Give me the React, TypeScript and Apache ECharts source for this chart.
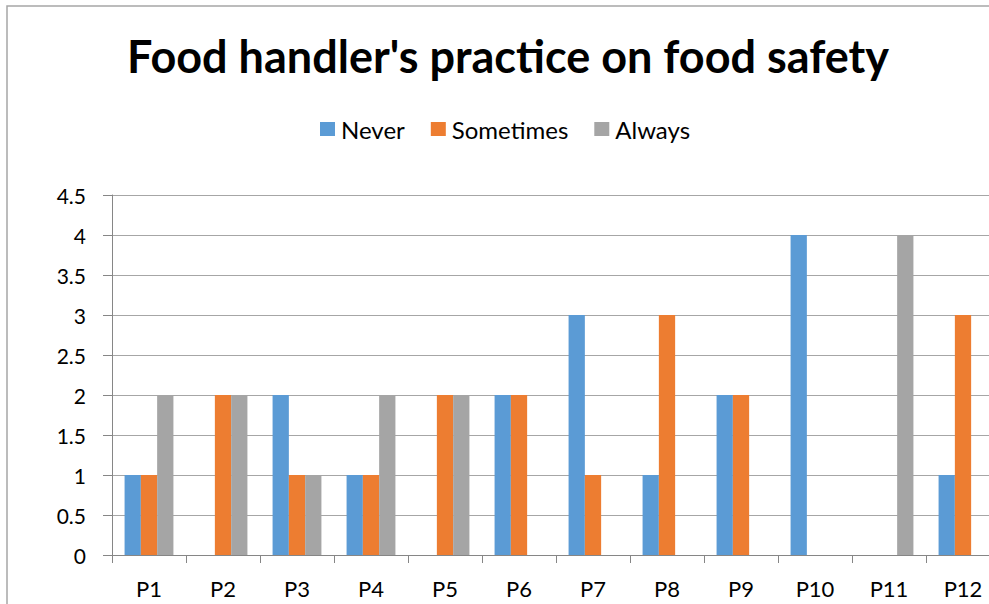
import React, { useEffect, useRef } from "react";
import * as echarts from "echarts";

const categories = ["P1", "P2", "P3", "P4", "P5", "P6", "P7", "P8", "P9", "P10", "P11", "P12"];
const never = [1, 0, 2, 1, 0, 2, 3, 1, 2, 4, 0, 1];
const sometimes = [1, 2, 1, 1, 2, 2, 1, 3, 2, 0, 0, 3];
const always = [2, 2, 1, 2, 2, 0, 0, 0, 0, 0, 4, 0];
const seriesNames = ["Never", "Sometimes", "Always"];
const colors = ["#5B9BD5", "#ED7D31", "#A5A5A5"];

const FONT = "Lato";

export default function App() {
  const ref = useRef<HTMLDivElement>(null);
  useEffect(() => {
    const chart = echarts.init(ref.current!, null, { renderer: "svg" });
    const data = [never, sometimes, always];
    chart.setOption({
      animation: false,
      backgroundColor: "#ffffff",
      title: {
        text: "Food handler's practice on food safety",
        left: 503,
        textAlign: "center",
        top: 28,
        textStyle: { fontFamily: FONT, fontWeight: "bold", fontSize: 45, color: "#000000" },
      },
      legend: {
        top: 117,
        left: 320,
        padding: 0,
        itemWidth: 15,
        itemHeight: 14,
        itemGap: 26,
        icon: "rect",
        textStyle: { fontFamily: FONT, fontSize: 24, color: "#000000", padding: [0, 0, 0, 1] },
        data: seriesNames,
      },
      graphic: [
        {
          type: "rect",
          shape: { x: 7, y: 6, width: 1100, height: 800 },
          style: { fill: "none", stroke: "#a6a6a6", lineWidth: 1.5 },
          silent: true,
        },
      ],
      grid: { left: 112, top: 195, width: 888, height: 360, outerBoundsMode: "none", containLabel: false },
      xAxis: {
        type: "category",
        data: categories,
        axisLine: { show: true, lineStyle: { color: "#868686", width: 1 } },
        axisTick: { show: true, interval: 0, length: 8, lineStyle: { color: "#868686" } },
        axisLabel: { margin: 22, fontFamily: FONT, fontSize: 22, color: "#000000" },
        splitLine: { show: false },
      },
      yAxis: {
        type: "value",
        min: 0,
        max: 4.5,
        interval: 0.5,
        axisLine: { show: true, lineStyle: { color: "#868686", width: 1 } },
        axisTick: { show: true, length: 9, lineStyle: { color: "#868686" } },
        axisLabel: { margin: 26, fontFamily: FONT, fontSize: 21, color: "#000000" },
        splitLine: { show: true, lineStyle: { color: "#a6a6a6", width: 1 } },
      },
      series: seriesNames.map((name, i) => ({
        name,
        type: "bar",
        data: data[i],
        barGap: "0%",
        barCategoryGap: "34%",
        itemStyle: { color: colors[i] },
      })),
    });
    return () => chart.dispose();
  }, []);
  return <div ref={ref} style={{ position: "fixed", left: 0, top: 0, width: 989, height: 604 }} />;
}
